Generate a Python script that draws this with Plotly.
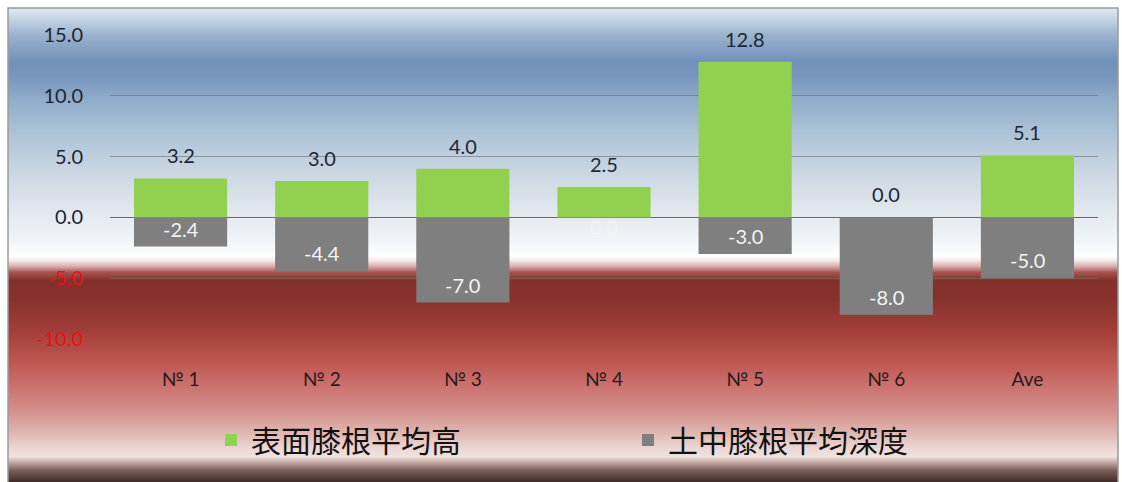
import base64
import struct
import zlib

import plotly.graph_objects as go

# ---- data -------------------------------------------------------------
categories = ["№ 1", "№ 2", "№ 3", "№ 4", "№ 5", "№ 6", "Ave"]
surface_height = [3.2, 3.0, 4.0, 2.5, 12.8, 0.0, 5.1]        # 表面膝根平均高
soil_depth = [-2.4, -4.4, -7.0, 0.0, -3.0, -8.0, -5.0]       # 土中膝根平均深度
y_ticks = [-10, -5, 0, 5, 10, 15]

# ---- canvas geometry (pixels) ------------------------------------------
W, H = 1122, 482
ML, MR, MT, MB = 110, 24, 35, 143
PW, PH = W - ML - MR, H - MT - MB


def px_x(px):
    return (px - ML) / PW


def px_y(py):
    return (H - MB - py) / PH


# ---- vertical background gradient rendered as a small PNG ---------------
stops = [
    (8, "#dfe8f0"), (18, "#c6d5e4"), (35, "#9ab2cd"), (60, "#7392ba"),
    (75, "#7795bc"), (100, "#90adca"), (130, "#abc1d5"), (170, "#c9d6e2"),
    (210, "#e1e8ee"), (240, "#f1f4f7"), (256, "#ffffff"), (260, "#f5eaea"),
    (266, "#d8acaa"), (272, "#a65350"), (280, "#84302b"), (300, "#89322d"),
    (330, "#a23e39"), (360, "#be5550"), (385, "#cb716d"), (410, "#d48f8b"),
    (430, "#deb2ad"), (448, "#ecd6d2"), (456, "#f0e2de"), (462, "#c2a8a2"),
    (470, "#7c5d57"), (482, "#3e2a26"),
]


def hex_rgb(h):
    h = h.lstrip("#")
    return tuple(int(h[i:i + 2], 16) for i in (0, 2, 4))


def gradient_rows(y0, y1):
    rows = []
    for y in range(y0, y1):
        for (a, ca), (b, cb) in zip(stops, stops[1:]):
            if a <= y <= b:
                t = (y - a) / (b - a) if b > a else 0
                c0, c1 = hex_rgb(ca), hex_rgb(cb)
                rows.append(tuple(round(c0[i] + (c1[i] - c0[i]) * t) for i in range(3)))
                break
        else:
            rows.append(hex_rgb(stops[-1][1]))
    return rows


def png_uri(rows, width=4):
    raw = b"".join(b"\x00" + bytes(rgb) * width for rgb in rows)

    def chunk(tag, data):
        body = tag + data
        return struct.pack(">I", len(data)) + body + struct.pack(">I", zlib.crc32(body) & 0xFFFFFFFF)

    ihdr = struct.pack(">IIBBBBB", width, len(rows), 8, 2, 0, 0, 0)
    png = (b"\x89PNG\r\n\x1a\n" + chunk(b"IHDR", ihdr)
           + chunk(b"IDAT", zlib.compress(raw, 9)) + chunk(b"IEND", b""))
    return "data:image/png;base64," + base64.b64encode(png).decode()


FX0, FX1, FY0, FY1 = 8, 1118, 8, 482
bg_uri = png_uri(gradient_rows(FY0, FY1))

# ---- figure ------------------------------------------------------------
GREEN = "#92D050"
GREY = "#7F7F7F"
FONT = "Lato, 'Noto Sans CJK JP', sans-serif"

fig = go.Figure()
fig.add_trace(go.Bar(x=categories, y=surface_height, name="表面膝根平均高",
                     marker=dict(color=GREEN, line=dict(width=0)), hoverinfo="x+y"))
fig.add_trace(go.Bar(x=categories, y=soil_depth, name="土中膝根平均深度",
                     marker=dict(color=GREY, line=dict(width=0)), hoverinfo="x+y"))

annotations = []
for c, v in zip(categories, surface_height):
    annotations.append(dict(x=c, y=v, xref="x", yref="y", text=f"{v:.1f}",
                            showarrow=False, yanchor="middle", yshift=23,
                            font=dict(family=FONT, size=20, color="#1d2636")))
for c, v in zip(categories, soil_depth):
    annotations.append(dict(x=c, y=v, xref="x", yref="y", text=f"{v:.1f}",
                            showarrow=False, yanchor="middle",
                            yshift=18 if v < 0 else -10,
                            font=dict(family=FONT, size=20, color="#f4f4f4")))

tick_text = []
for t in y_ticks:
    col = "#ee1111" if t < 0 else "#1c2535"
    tick_text.append(f'<span style="color:{col}">{t:.1f}</span>')

fig.update_layout(
    width=W, height=H, autosize=False,
    margin=dict(l=ML, r=MR, t=MT, b=MB, pad=0),
    paper_bgcolor="white", plot_bgcolor="rgba(0,0,0,0)",
    barmode="relative", bargap=0.34,
    font=dict(family=FONT, size=19, color="#1c2535"),
    showlegend=True,
    legend=dict(orientation="h", x=px_x(211), xanchor="left",
                y=px_y(440), yanchor="middle",
                entrywidth=372, entrywidthmode="pixels",
                bgcolor="rgba(0,0,0,0)",
                font=dict(family="'Noto Sans CJK JP', sans-serif", size=30, color="#111111")),
    xaxis=dict(showgrid=False, showline=False, zeroline=False, ticks="",
               ticklabelstandoff=27,
               tickfont=dict(family=FONT, size=19, color="#2a1a1a")),
    yaxis=dict(range=[-10, 15], tickmode="array", tickvals=y_ticks, ticktext=tick_text,
               showgrid=True, gridcolor="rgba(110,110,110,0.6)", gridwidth=1,
               zeroline=True, zerolinecolor="#6a6a6a", zerolinewidth=1,
               showline=False, ticks="", ticklabelstandoff=26,
               tickfont=dict(family=FONT, size=20)),
    annotations=annotations,
    images=[dict(source=bg_uri, xref="paper", yref="paper",
                 x=px_x(FX0), y=px_y(FY0), sizex=px_x(FX1) - px_x(FX0),
                 sizey=px_y(FY0) - px_y(FY1), xanchor="left", yanchor="top",
                 sizing="stretch", layer="below")],
    shapes=[dict(type="rect", xref="paper", yref="paper",
                 x0=px_x(FX0), x1=px_x(FX1), y0=px_y(FY1 + 4), y1=px_y(FY0),
                 line=dict(color="#9a9a9a", width=1.5), fillcolor="rgba(0,0,0,0)",
                 layer="above")],
)

fig.write_html("out.html")
